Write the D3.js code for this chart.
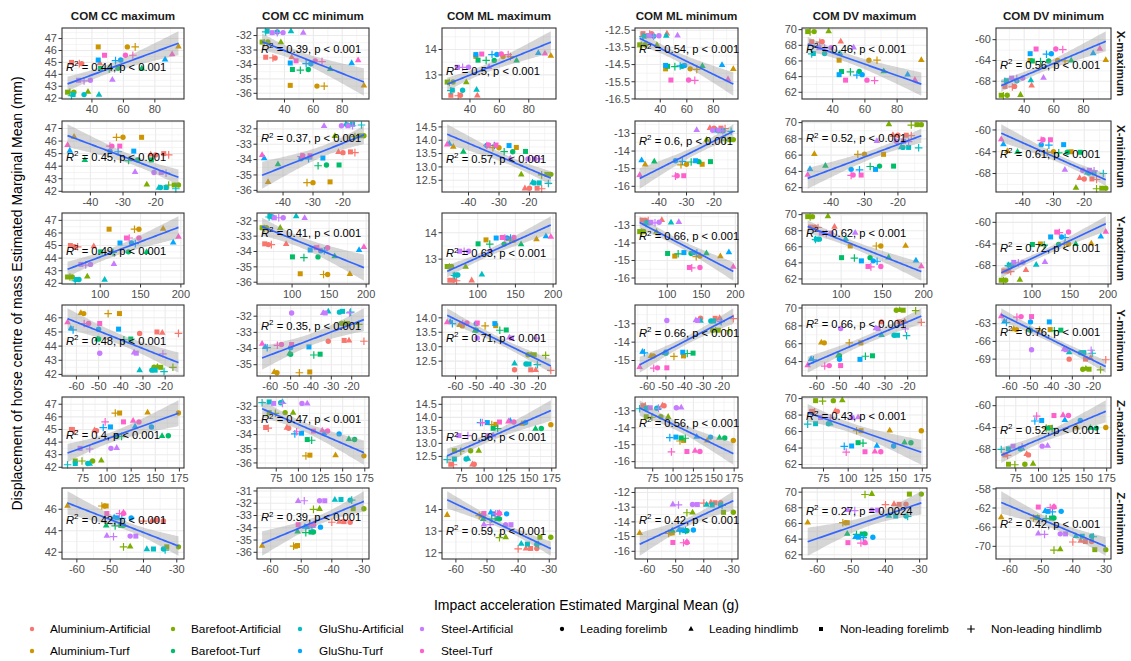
<!DOCTYPE html>
<html><head><meta charset="utf-8">
<script src="https://cdn.jsdelivr.net/npm/d3@7"></script>
<style>
body{margin:0;background:#fff;}
svg text{font-family:"Liberation Sans", Arial, sans-serif;}
</style></head><body>
<svg id="chart" width="1131" height="661"></svg>
<script>
// ---------------- DATA ----------------
const conditions = ["Aluminium-Artificial","Aluminium-Turf","Barefoot-Artificial","Barefoot-Turf",
                    "GluShu-Artificial","GluShu-Turf","Steel-Artificial","Steel-Turf"];
const limbs = ["Leading forelimb","Leading hindlimb","Non-leading forelimb","Non-leading hindlimb"];
const colTitles = ["COM CC maximum","COM CC minimum","COM ML maximum","COM ML minimum","COM DV maximum","COM DV minimum"];
const rowTitles = ["X-maximum","X-minimum","Y-maximum","Y-minimum","Z-maximum","Z-minimum"];

// impact acceleration (x), order: per condition -> [LF, LH, NLF, NLH]
const accXmax = [33.5,45,27,32,  62.5,95,44,67.5,  28.5,37.5,24.5,26,  56.5,71.7,45.5,51,
                 35,44.5,28,27,  58.3,86.5,44,55,  39,53,31.5,35,  61.3,91,48,66];
const accXmin = [-20,-21.5,-17.5,-16,  -30,-45,-24.3,-32,  -13,-22.7,-14.3,-16,  -25.5,-41.7,-21.3,-28.3,
                 -18.5,-19,-16.8,-13.8,  -34,-46.3,-26.7,-31.5,  -20.5,-26.3,-18.3,-16.8,  -33.4,-47,-31,-34];
const accYmax = [68,92,63,72,  148,178,111,142.5,  65.3,84,59.5,62.5,  135,157.5,100.5,116,
                 73.6,105.5,70,69,  138.8,190.5,124.5,143.5,  88,117,76,82,  148,197,132.5,136];
const accYmin = [-31.5,-21.3,-23.7,-14,  -56.7,-58,-40.6,-45.7,  -25,-23.5,-22,-16.5,  -50,-50.5,-35.5,-38.6,
                 -26,-31.5,-24.5,-20.5,  -50,-62.5,-41,-61.5,  -49.5,-34,-33,-21,  -54.5,-64,-49.5,-56.5];
const accZmax = [89,87,63,66,  174,142,113,108.5,  85,94,67,74,  163.5,157,110,115,
                 80,82,67,59,  146,129,103.5,96,  104,110,72,82,  133,127,117,98];
const accZmin = [-34,-37.5,-36,-40,  -51.7,-62.8,-51.2,-52.5,  -29.5,-44,-33,-46,  -46,-51.2,-46.8,-48.5,
                 -34,-39,-37,-33.5,  -43.7,-48.8,-47.9,-46.5,  -44,-51,-42.3,-49,  -46,-46,-51,-47.2];

// COM displacement (y)
const ccMax = [44.9,44.95,45.0,44.9,  46.3,46.35,46.3,46.3,  42.5,42.55,42.5,42.5,  44.5,44.5,44.5,44.45,
               42.3,42.3,42.3,42.2,  45.2,45.25,45.2,45.15,  43.5,43.55,43.5,43.45,  45.6,45.7,45.6,45.6];
const ccMin = [-33.55,-33.5,-33.5,-33.55,  -35.5,-35.45,-35.45,-35.5,  -32.45,-32.45,-32.45,-32.5,  -34.35,-34.3,-34.35,-34.4,
               -31.75,-31.7,-31.7,-31.75,  -33.95,-33.9,-33.9,-33.95,  -31.8,-31.8,-31.8,-31.8,  -33.75,-33.7,-33.75,-33.8];
const mlMax = [12.2,12.2,12.2,12.18,  13.72,13.76,13.73,13.72,  12.72,12.72,12.72,12.7,  13.57,13.57,13.58,13.57,
               12.4,12.42,12.4,12.38,  13.8,13.87,13.8,13.8,  13.3,13.32,13.3,13.3,  13.82,13.85,13.82,13.8];
const mlMin = [-12.7,-12.68,-12.7,-12.72,  -14.75,-14.75,-14.75,-14.78,  -13.35,-13.35,-13.35,-13.38,  -14.6,-14.58,-14.6,-14.62,
               -12.85,-12.82,-12.85,-12.88,  -14.55,-14.52,-14.55,-14.58,  -12.82,-12.8,-12.82,-12.85,  -15.4,-15.35,-15.4,-15.42];
const dvMax = [68.45,68.5,68.45,68.4,  66.1,66.15,66.1,66.1,  69.75,69.8,69.75,69.7,  64.65,64.7,64.65,64.6,
               66.95,67.0,66.95,66.9,  64.25,64.3,64.25,64.2,  67.7,67.75,67.7,67.65,  63.55,63.6,63.55,63.5];
const dvMin = [-69,-68.8,-69,-69.1,  -64,-63.9,-64,-64.1,  -70.7,-70.6,-70.7,-70.8,  -64.1,-64,-64.1,-64.2,
               -67.9,-67.8,-67.9,-68,  -62.7,-62.6,-62.7,-62.8,  -67.4,-67.3,-67.4,-67.5,  -61.8,-61.7,-61.8,-61.9];

const rowX = [accXmax, accXmin, accYmax, accYmin, accZmax, accZmin];
const colY = [ccMax, ccMin, mlMax, mlMin, dvMax, dvMin];

const xTicksByRow = [[40,60,80],[-40,-30,-20],[100,150,200],[-60,-50,-40,-30,-20],[75,100,125,150,175],[-60,-50,-40,-30]];
const yTicksByPanel = [
  [[42,43,44,45,46,47],[-36,-35,-34,-33,-32],[13,14],[-16.5,-15.5,-14.5,-13.5,-12.5],[62,64,66,68,70],[-68,-64,-60]],
  [[42,43,44,45,46,47],[-36,-35,-34,-33,-32],[12.5,13,13.5,14,14.5],[-16,-15,-14,-13],[62,64,66,68,70],[-68,-64,-60]],
  [[42,43,44,45,46,47],[-36,-35,-34,-33,-32],[13,14],[-16,-15,-14,-13],[62,64,66,68,70],[-68,-64,-60]],
  [[42,43,44,45,46],[-35,-34,-33,-32],[12.5,13,13.5,14],[-15,-14,-13],[64,66,68,70],[-72,-69,-66,-63]],
  [[42,43,44,45,46,47],[-36,-35,-34,-33,-32],[12.5,13,13.5,14,14.5],[-16,-15,-14,-13],[62,64,66,68,70],[-68,-64,-60]],
  [[42,44,46,48],[-36,-35,-34,-33,-32,-31],[12,13,14],[-16,-15,-14,-13,-12],[62,64,66,68,70],[-70,-66,-62,-58]]
];
const r2Labels = [
  ["0.44","0.39","0.5","0.54","0.46","0.56"],
  ["0.45","0.37","0.57","0.6","0.52","0.61"],
  ["0.49","0.41","0.63","0.66","0.62","0.72"],
  ["0.48","0.35","0.71","0.66","0.66","0.76"],
  ["0.4","0.47","0.56","0.56","0.43","0.52"],
  ["0.42","0.39","0.59","0.42","0.27","0.42"]
];
const pLabels = [
  ["p < 0.001","p < 0.001","p < 0.001","p < 0.001","p < 0.001","p < 0.001"],
  ["p < 0.001","p < 0.001","p < 0.001","p < 0.001","p < 0.001","p < 0.001"],
  ["p < 0.001","p < 0.001","p < 0.001","p < 0.001","p < 0.001","p < 0.001"],
  ["p < 0.001","p < 0.001","p < 0.001","p < 0.001","p < 0.001","p < 0.001"],
  ["p < 0.001","p < 0.001","p < 0.001","p < 0.001","p < 0.001","p < 0.001"],
  ["p < 0.001","p < 0.001","p < 0.001","p < 0.001","p = 0.0024","p < 0.001"]
];

// ---------------- LAYOUT / STYLE ----------------
const colors = ["#F8766D","#CD9600","#7CAE00","#00BE67","#00BFC4","#00A9FF","#C77CFF","#FF61CC"];
const panelCols = [[62,184],[257,369],[442,556],[635,738],[802,927],[996,1111]];
const rowTops = [28,121,213,305,397,488];
const rowH = 71;
const labelFrac = [
  [0.545,0.29,0.60,0.30,0.29,0.52],
  [0.50,0.24,0.53,0.28,0.24,0.46],
  [0.53,0.28,0.57,0.33,0.28,0.49],
  [0.50,0.29,0.46,0.39,0.27,0.38],
  [0.536,0.31,0.57,0.36,0.27,0.46],
  [0.45,0.41,0.60,0.45,0.32,0.50]
];
const tCrit = 2.0423; // t(0.975, df = 30)

const svg = d3.select("#chart");
svg.append("rect").attr("width",1131).attr("height",661).attr("fill","#fff");

function drawShape(g, shape, x, y, color, scale=1){
  if(shape===0){
    g.append("circle").attr("cx",x).attr("cy",y).attr("r",2.7*scale).attr("fill",color);
  } else if(shape===1){
    const s=3.3*scale;
    g.append("path").attr("d",`M${x},${y-s*1.1}L${x+s},${y+s*0.65}L${x-s},${y+s*0.65}Z`).attr("fill",color);
  } else if(shape===2){
    const s=2.5*scale;
    g.append("rect").attr("x",x-s).attr("y",y-s).attr("width",2*s).attr("height",2*s).attr("fill",color);
  } else {
    const s=3.8*scale;
    g.append("path").attr("d",`M${x-s},${y}H${x+s}M${x},${y-s}V${y+s}`)
      .attr("stroke",color).attr("stroke-width",1.2).attr("fill","none");
  }
}

function fmt(ticks){
  const dec = ticks.some(t=>Math.abs(t-Math.round(t))>1e-9);
  return t => dec ? t.toFixed(1) : String(t);
}

function minorBreaks(ticks, dom){
  const out=[]; const st = ticks[1]-ticks[0];
  const all=[ticks[0]-st/2];
  for(let i=0;i<ticks.length-1;i++) all.push((ticks[i]+ticks[i+1])/2);
  all.push(ticks[ticks.length-1]+st/2);
  all.forEach(v=>{ if(v>=dom[0] && v<=dom[1]) out.push(v); });
  return out;
}

for(let r=0;r<6;r++){
  for(let c=0;c<6;c++){
    const xs=rowX[r], ys=colY[c], n=xs.length;
    const xbar=d3.mean(xs), ybar=d3.mean(ys);
    let sxx=0,sxy=0; for(let i=0;i<n;i++){sxx+=(xs[i]-xbar)**2; sxy+=(xs[i]-xbar)*(ys[i]-ybar);}
    const b=sxy/sxx, a=ybar-b*xbar;
    let sse=0; for(let i=0;i<n;i++){ sse+=(ys[i]-(a+b*xs[i]))**2; }
    const s=Math.sqrt(sse/(n-2));
    const [xmin,xmax]=d3.extent(xs);
    const band=d3.range(80).map(k=>{
      const x0=xmin+(xmax-xmin)*k/79; const yh=a+b*x0;
      const se=s*Math.sqrt(1/n+(x0-xbar)**2/sxx);
      return {x:x0,y:yh,lo:yh-tCrit*se,hi:yh+tCrit*se};
    });
    const ylo=Math.min(d3.min(ys),d3.min(band,d=>d.lo)), yhi=Math.max(d3.max(ys),d3.max(band,d=>d.hi));
    const xd=[xmin-(xmax-xmin)*0.05, xmax+(xmax-xmin)*0.05];
    const yd=[ylo-(yhi-ylo)*0.05, yhi+(yhi-ylo)*0.05];
    const [L,R]=panelCols[c], T=rowTops[r], B=T+rowH;
    const x=d3.scaleLinear().domain(xd).range([L,R]);
    const y=d3.scaleLinear().domain(yd).range([B,T]);
    const g=svg.append("g");
    g.append("rect").attr("x",L).attr("y",T).attr("width",R-L).attr("height",B-T).attr("fill","#fff");
    const xt=xTicksByRow[r].filter(v=>v>=xd[0]&&v<=xd[1]);
    const yt=yTicksByPanel[r][c].filter(v=>v>=yd[0]&&v<=yd[1]);
    // minor grid
    minorBreaks(xTicksByRow[r],xd).forEach(v=>g.append("line").attr("x1",x(v)).attr("x2",x(v)).attr("y1",T).attr("y2",B).attr("stroke","#EBEBEB").attr("stroke-width",0.55));
    minorBreaks(yTicksByPanel[r][c],yd).forEach(v=>g.append("line").attr("y1",y(v)).attr("y2",y(v)).attr("x1",L).attr("x2",R).attr("stroke","#EBEBEB").attr("stroke-width",0.55));
    xt.forEach(v=>g.append("line").attr("x1",x(v)).attr("x2",x(v)).attr("y1",T).attr("y2",B).attr("stroke","#EBEBEB").attr("stroke-width",1.1));
    yt.forEach(v=>g.append("line").attr("y1",y(v)).attr("y2",y(v)).attr("x1",L).attr("x2",R).attr("stroke","#EBEBEB").attr("stroke-width",1.1));
    // points
    for(let i=0;i<n;i++){
      drawShape(g, i%4, x(xs[i]), y(ys[i]), colors[Math.floor(i/4)]);
    }
    // smooth
    g.append("path").datum(band).attr("fill","#999999").attr("fill-opacity",0.4)
      .attr("d",d3.area().x(d=>x(d.x)).y0(d=>y(d.lo)).y1(d=>y(d.hi)));
    g.append("path").datum(band).attr("fill","none").attr("stroke","#3366FF").attr("stroke-width",1.7)
      .attr("d",d3.line().x(d=>x(d.x)).y(d=>y(d.y)));
    // label
    const ly=T+labelFrac[r][c]*rowH+4;
    const t=g.append("text").attr("x",L+4).attr("y",ly).attr("font-size",11.2).attr("fill","#000");
    t.append("tspan").attr("font-style","italic").text("R");
    t.append("tspan").attr("font-size",8).attr("dy",-4.5).text("2");
    t.append("tspan").attr("dy",4.5).text(" = "+r2Labels[r][c]+", "+pLabels[r][c]);
    // border
    g.append("rect").attr("x",L).attr("y",T).attr("width",R-L).attr("height",B-T).attr("fill","none").attr("stroke","#333333").attr("stroke-width",1.1);
    // axes ticks + labels
    const fx=fmt(xTicksByRow[r]), fy=fmt(yTicksByPanel[r][c]);
    xt.forEach(v=>{
      g.append("line").attr("x1",x(v)).attr("x2",x(v)).attr("y1",B).attr("y2",B+3.5).attr("stroke","#333333").attr("stroke-width",1);
      g.append("text").attr("x",x(v)).attr("y",B+14).attr("text-anchor","middle").attr("font-size",11).attr("fill","#4D4D4D").text(fx(v));
    });
    yt.forEach(v=>{
      g.append("line").attr("x1",L-3.5).attr("x2",L).attr("y1",y(v)).attr("y2",y(v)).attr("stroke","#333333").attr("stroke-width",1);
      g.append("text").attr("x",L-5).attr("y",y(v)+3.8).attr("text-anchor","end").attr("font-size",11).attr("fill","#4D4D4D").text(fy(v));
    });
  }
}
// strips
colTitles.forEach((t,c)=>{
  svg.append("text").attr("x",(panelCols[c][0]+panelCols[c][1])/2).attr("y",20).attr("text-anchor","middle")
    .attr("font-size",11.6).attr("font-weight","bold").attr("fill","#1A1A1A").text(t);
});
rowTitles.forEach((t,r)=>{
  const cy=rowTops[r]+rowH/2;
  svg.append("text").attr("transform",`translate(1117,${cy}) rotate(90)`).attr("text-anchor","middle")
    .attr("font-size",11.6).attr("font-weight","bold").attr("fill","#1A1A1A").text(t);
});
// axis titles
svg.append("text").attr("transform",`translate(22,${(rowTops[0]+rowTops[5]+rowH)/2}) rotate(-90)`).attr("text-anchor","middle")
  .attr("font-size",14).attr("fill","#000").text("Displacement of horse centre of mass Estimated Marginal Mean (mm)");
svg.append("text").attr("x",(panelCols[0][0]+panelCols[5][1])/2).attr("y",610).attr("text-anchor","middle")
  .attr("font-size",14).attr("fill","#000").text("Impact acceleration Estimated Marginal Mean (g)");
// legends
const lgKeyX=[32,173,300,422], lgTextX=[50,191,319,441], lgY=[629,651];
conditions.forEach((cn,k)=>{
  const col=Math.floor(k/2), row=k%2;
  svg.append("circle").attr("cx",lgKeyX[col]).attr("cy",lgY[row]).attr("r",2.2).attr("fill",colors[k]);
  svg.append("text").attr("x",lgTextX[col]).attr("y",lgY[row]+4).attr("font-size",11.8).attr("fill","#000").text(cn);
});
const shKeyX=[562,691,821,971], shTextX=[580,709,840,991];
limbs.forEach((lb,k)=>{
  const lg=svg.append("g");
  drawShape(lg,k,shKeyX[k],629,"#000",k===3?1:0.8);
  svg.append("text").attr("x",shTextX[k]).attr("y",633).attr("font-size",11.8).attr("fill","#000").text(lb);
});
</script></body></html>
